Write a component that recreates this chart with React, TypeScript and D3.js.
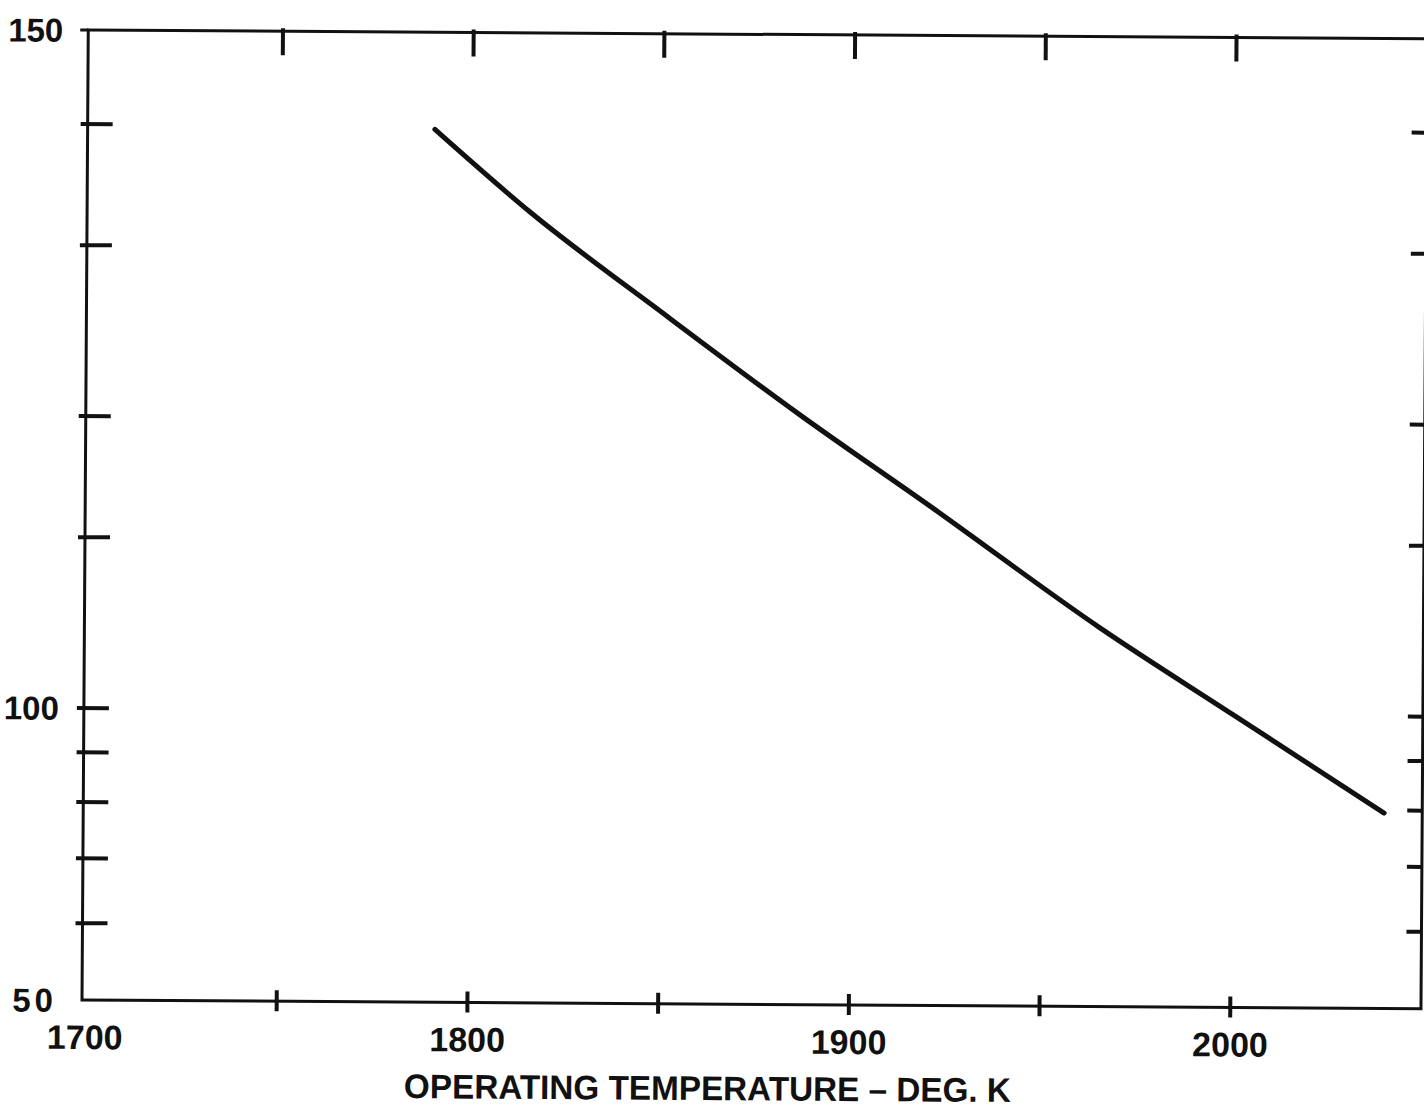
import React from "react";
import * as d3 from "d3";

// ---- data ----
const temperatures = [1790, 1815, 1851, 1886, 1921, 1965, 2000, 2040];
const values = [397, 327, 256, 203, 163, 123, 100.3, 79.5];

const xTickValues = [1750, 1800, 1850, 1900, 1950, 2000];
const xLabelValues = [1700, 1800, 1900, 2000];
const xLabelTexts = ["1700", "1800", "1900", "2000"];

const yTickValues = [60, 70, 80, 90, 100, 150, 200, 300, 400];
const yLabelValues = [50, 100, 500];
const yLabelTexts = ["50", "100", "150"];

const xTitle = "OPERATING  TEMPERATURE  – DEG. K";

const W = 1424;
const H = 1112;
const left = 82;
const right = 1421;
const top = 30;
const bottom = 1000;
const FONT = "'Liberation Sans', Arial, sans-serif";

export default function App() {
  const x = d3.scaleLinear().domain([1700, 2050]).range([86, right]);
  const y = d3.scaleLog().domain([50, 500]).range([bottom, top]);

  const pts = temperatures.map((t, i) => [t, values[i]] as [number, number]);
  const line = d3
    .line<[number, number]>()
    .x((d) => x(d[0]))
    .y((d) => y(d[1]))
    .curve(d3.curveMonotoneX);

  return (
    <svg
      width={W}
      height={H}
      viewBox={`0 0 ${W} ${H}`}
      style={{ position: "absolute", left: 0, top: 0, background: "#fff" }}
    >
      <rect x={0} y={0} width={W} height={H} fill="#fff" />
      <g transform={`rotate(0.37, ${left}, ${bottom})`}>
        {/* frame */}
        <rect
          x={left}
          y={top}
          width={right - left}
          height={bottom - top}
          fill="none"
          stroke="#111"
          strokeWidth={3}
        />
        <line x1={left - 8} x2={left} y1={top} y2={top} stroke="#111" strokeWidth={3} />
        {/* left ticks */}
        {yTickValues.map((v) => (
          <line key={"l" + v} x1={left - 7} x2={left + 25} y1={y(v)} y2={y(v)} stroke="#111" strokeWidth={4} />
        ))}
        {/* right ticks */}
        {yTickValues.map((v) => (
          <line key={"r" + v} x1={right - 15} x2={right} y1={y(v)} y2={y(v)} stroke="#111" strokeWidth={4} />
        ))}
        {/* top ticks */}
        {xTickValues.map((v) => (
          <line key={"t" + v} x1={x(v)} x2={x(v)} y1={top - 3} y2={top + 24} stroke="#111" strokeWidth={4} />
        ))}
        {/* bottom ticks */}
        {xTickValues.map((v) => (
          <line key={"b" + v} x1={x(v)} x2={x(v)} y1={bottom - 11} y2={bottom + 10} stroke="#111" strokeWidth={4} />
        ))}
        {/* y labels */}
        {yLabelValues.map((v, i) => (
          <text
            key={"yl" + v}
            x={57}
            y={y(v)}
            dy="0.36em"
            textAnchor="end"
            fontFamily={FONT}
            fontWeight="bold"
            fontSize={33}
            fill="#111"
            letterSpacing={v === 50 ? 4 : 0}
          >
            {yLabelTexts[i]}
          </text>
        ))}
        {/* x labels */}
        {xLabelValues.map((v, i) => (
          <text
            key={"xl" + v}
            x={v === 1700 ? left + 3 : x(v)}
            y={bottom + 49}
            textAnchor="middle"
            fontFamily={FONT}
            fontWeight="bold"
            fontSize={34}
            fill="#111"
          >
            {xLabelTexts[i]}
          </text>
        ))}
        {/* x title */}
        <text
          x={708}
          y={bottom + 96}
          textAnchor="middle"
          fontFamily={FONT}
          fontWeight="bold"
          fontSize={34}
          fill="#111"
          textLength={607}
          lengthAdjust="spacingAndGlyphs"
        >
          {xTitle}
        </text>
        {/* curve */}
        <path d={line(pts) || ""} fill="none" stroke="#111" strokeWidth={5} strokeLinecap="round" />
      </g>
    </svg>
  );
}
